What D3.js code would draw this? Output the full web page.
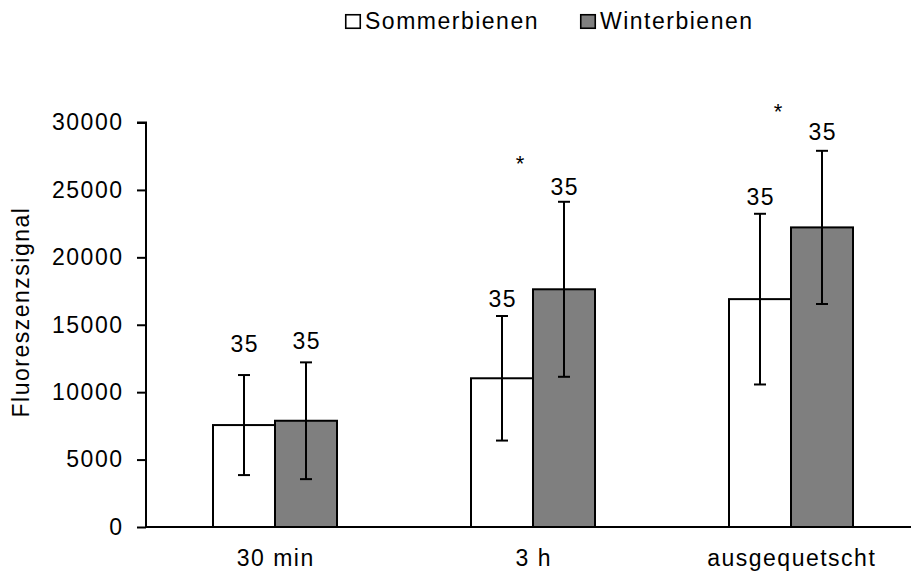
<!DOCTYPE html>
<html>
<head>
<meta charset="utf-8">
<script src="https://cdn.jsdelivr.net/npm/d3@7"></script>
<style>
  html, body { margin: 0; padding: 0; background: #fff; }
  svg { display: block; }
  text { font-family: "Liberation Sans", Arial, sans-serif; fill: #000; }
</style>
</head>
<body>
<div id="chart"></div>
<script>
// ---- data ----
const categories = ["30 min", "3 h", "ausgequetscht"];
const seriesNames = ["Sommerbienen", "Winterbienen"];
const sommerMean = [7560, 11030, 16900];
const sommerErr = [3710, 4620, 6330];
const winterMean = [7880, 17630, 22220];
const winterErr = [4330, 6490, 5680];
const sommerN = [35, 35, 35];
const winterN = [35, 35, 35];
const sommerLabelAt = [13000, 16340, 23880];
const winterLabelAt = [13180, 24620, 28700];
const significance = ["", "*", "*"];
const significanceAt = [0, 26420, 30260];
const yTicks = [0, 5000, 10000, 15000, 20000, 25000, 30000];

// ---- layout ----
const W = 911, H = 573;
const colors = { Sommerbienen: "#ffffff", Winterbienen: "#7f7f7f" };
const FS = 23, LS = 1.5;

const svg = d3.select("#chart").append("svg")
  .attr("width", W).attr("height", H);

const y = d3.scaleLinear().domain([0, 30000]).range([527, 122.5]);
const x0 = d3.scaleBand().domain(categories).range([146, 920]).padding(0);
const barW = 62;
const x1 = d3.scaleBand().domain(seriesNames)
  .range([x0.bandwidth() / 2 - barW, x0.bandwidth() / 2 + barW]).padding(0);

const rows = categories.map((c, i) => ({
  cat: c,
  bars: [
    { s: "Sommerbienen", v: sommerMean[i], e: sommerErr[i], n: sommerN[i], ly: sommerLabelAt[i] },
    { s: "Winterbienen", v: winterMean[i], e: winterErr[i], n: winterN[i], ly: winterLabelAt[i] }
  ],
  sig: significance[i], sigAt: significanceAt[i]
}));

// bars
const g = svg.append("g");
const groups = g.selectAll("g.grp").data(rows).join("g")
  .attr("class", "grp")
  .attr("transform", d => `translate(${x0(d.cat)},0)`);

groups.selectAll("rect").data(d => d.bars).join("rect")
  .attr("x", d => x1(d.s))
  .attr("y", d => y(d.v))
  .attr("width", x1.bandwidth())
  .attr("height", d => y(0) - y(d.v))
  .attr("fill", d => colors[d.s])
  .attr("stroke", "#000")
  .attr("stroke-width", 2);

// error bars
const capW = 12;
const eb = groups.selectAll("g.err").data(d => d.bars).join("g").attr("class", "err")
  .attr("stroke", "#000").attr("stroke-width", 2);
eb.append("line")
  .attr("x1", d => x1(d.s) + x1.bandwidth() / 2)
  .attr("x2", d => x1(d.s) + x1.bandwidth() / 2)
  .attr("y1", d => y(d.v + d.e)).attr("y2", d => y(d.v - d.e));
eb.append("line")
  .attr("x1", d => x1(d.s) + x1.bandwidth() / 2 - capW / 2)
  .attr("x2", d => x1(d.s) + x1.bandwidth() / 2 + capW / 2)
  .attr("y1", d => y(d.v + d.e)).attr("y2", d => y(d.v + d.e));
eb.append("line")
  .attr("x1", d => x1(d.s) + x1.bandwidth() / 2 - capW / 2)
  .attr("x2", d => x1(d.s) + x1.bandwidth() / 2 + capW / 2)
  .attr("y1", d => y(d.v - d.e)).attr("y2", d => y(d.v - d.e));

// n labels
groups.selectAll("text.n").data(d => d.bars).join("text").attr("class", "n")
  .attr("x", d => x1(d.s) + x1.bandwidth() / 2 + LS / 2)
  .attr("y", d => y(d.ly))
  .attr("text-anchor", "middle")
  .attr("font-size", FS).attr("letter-spacing", LS)
  .text(d => d.n);

// significance
groups.filter(d => d.sig).append("text")
  .attr("x", x0.bandwidth() / 2 - 13)
  .attr("y", d => y(d.sigAt))
  .attr("text-anchor", "middle")
  .attr("font-size", 22)
  .text(d => d.sig);

// y axis
const yAxis = d3.axisLeft(y).tickValues(yTicks).tickSize(9).tickPadding(15).tickFormat(d3.format("d"));
const ya = svg.append("g").attr("transform", "translate(146,0)").call(yAxis);
ya.select(".domain").attr("stroke", "#000").attr("stroke-width", 2).attr("d", `M-9,${y(30000)}H0V${y(0)}`);
ya.selectAll(".tick line").attr("stroke", "#000").attr("stroke-width", 2);
ya.selectAll(".tick text").attr("font-size", FS).attr("letter-spacing", LS)
  .attr("font-family", '"Liberation Sans", Arial, sans-serif').attr("fill", "#000")
  .attr("dx", LS);

// x axis
const xAxis = d3.axisBottom(x0).tickSize(0).tickPadding(23);
const xa = svg.append("g").attr("transform", `translate(0,${y(0)})`).call(xAxis);
xa.select(".domain").attr("stroke", "#000").attr("stroke-width", 2).attr("d", `M146,0H${W}`);
xa.selectAll(".tick text").attr("font-size", FS).attr("letter-spacing", LS)
  .attr("font-family", '"Liberation Sans", Arial, sans-serif').attr("fill", "#000")
  .attr("dx", LS / 2);

// y title
svg.append("text")
  .attr("transform", "translate(29,312) rotate(-90)")
  .attr("text-anchor", "middle")
  .attr("font-size", FS).attr("letter-spacing", LS)
  .text("Fluoreszenzsignal");

// legend
const legendX = [345, 580];
const leg = svg.append("g");
seriesNames.forEach((s, i) => {
  leg.append("rect")
    .attr("x", legendX[i] + 0.75).attr("y", 14.75).attr("width", 14.5).attr("height", 13.5)
    .attr("fill", colors[s]).attr("stroke", "#000").attr("stroke-width", 1.6);
  leg.append("text")
    .attr("x", legendX[i] + 20).attr("y", 29)
    .attr("font-size", FS).attr("letter-spacing", LS)
    .text(s);
});
</script>
</body>
</html>
